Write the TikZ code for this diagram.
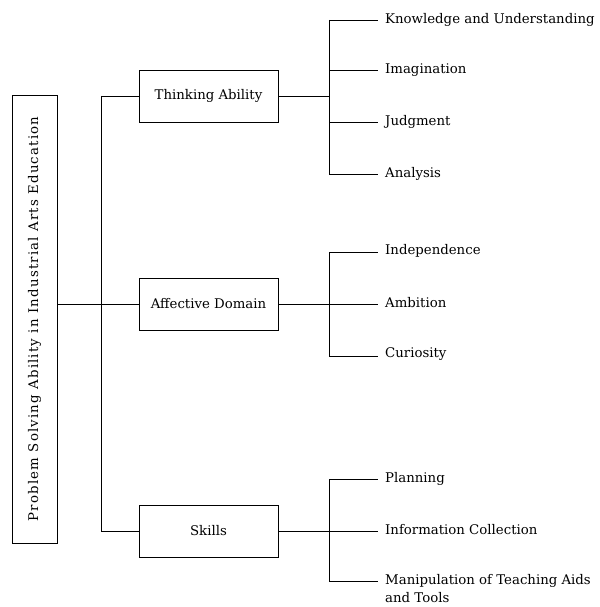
\documentclass[tikz,border=0pt]{standalone}
\usepackage{fontspec}
\setmainfont{DejaVu Serif}
\begin{document}
\begin{tikzpicture}[x=1pt,y=1pt,
  txt/.style={font=\fontsize{13.3}{15}\selectfont},
  box/.style={draw, line width=0.8pt, minimum width=139pt, minimum height=52pt, inner sep=0pt, txt},
  leaf/.style={anchor=west, inner sep=0pt, txt},
  ln/.style={line width=0.8pt}]
\useasboundingbox (0,0) rectangle (599,-607);
% root
\node[draw, line width=0.8pt, minimum width=448pt, minimum height=45pt, inner sep=0pt, rotate=90, font=\fontsize{13.3}{15}\selectfont\addfontfeature{LetterSpace=9}] (root) at (34.5,-319) {Problem Solving Ability in Industrial Arts Education};
% level 1
\node[box] (think) at (208.5,-96) {Thinking Ability};
\node[box] (affect) at (208.5,-304) {Affective Domain};
\node[box] (skills) at (208.5,-531) {Skills};
% trunk
\coordinate (rj) at (101,-304);
\coordinate (rt) at (101,-96);
\coordinate (rb) at (101,-531);
\draw[ln] (root.south |- rj) -- (rj);
\draw[ln] (rt) -- (rb);
\draw[ln] (rt) -- (think.west);
\draw[ln] (rj) -- (affect.west);
\draw[ln] (rb) -- (skills.west);
% leaves
\node[leaf] (k1) at (385,-20) {Knowledge and Understanding};
\node[leaf] (k2) at (385,-70) {Imagination};
\node[leaf] (k3) at (385,-122) {Judgment};
\node[leaf] (k4) at (385,-174) {Analysis};
\node[leaf] (a1) at (385,-251) {Independence};
\node[leaf] (a2) at (385,-303) {Ambition};
\node[leaf] (a3) at (385,-354) {Curiosity};
\node[leaf] (s1) at (385,-479) {Planning};
\node[leaf] (s2) at (385,-530) {Information Collection};
\node[leaf, anchor=north west, align=left, font=\fontsize{13.3}{18}\selectfont] (s3) at (385,-574) {Manipulation of Teaching Aids\\and Tools};
% thinking branches
\coordinate (tj) at (329,-96);
\draw[ln] (think.east) -- (tj);
\draw[ln] (329,-20) -- (329,-174);
\foreach \n/\y in {k1/-20,k2/-70,k3/-122,k4/-174} {
  \coordinate (e\n) at (378,\y);
  \draw[ln] (329,\y) -- (e\n);
}
% affective branches
\coordinate (aj) at (329,-304);
\draw[ln] (affect.east) -- (aj);
\draw[ln] (329,-252) -- (329,-356);
\foreach \n/\y in {a1/-252,a2/-304,a3/-356} {
  \coordinate (e\n) at (378,\y);
  \draw[ln] (329,\y) -- (e\n);
}
% skills branches
\coordinate (sj) at (329,-531);
\draw[ln] (skills.east) -- (sj);
\draw[ln] (329,-479) -- (329,-581);
\foreach \n/\y in {s1/-479,s2/-531,s3/-581} {
  \coordinate (e\n) at (378,\y);
  \draw[ln] (329,\y) -- (e\n);
}
\end{tikzpicture}
\end{document}
